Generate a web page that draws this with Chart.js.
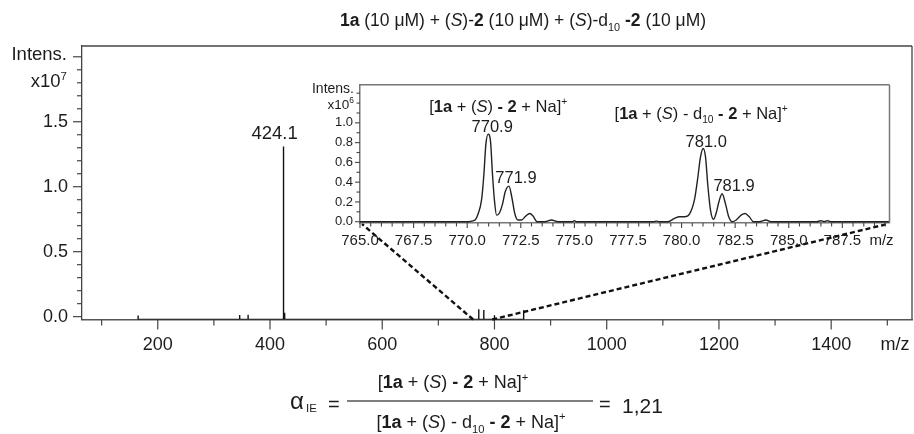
<!DOCTYPE html>
<html>
<head>
<meta charset="utf-8">
<script src="https://cdn.jsdelivr.net/npm/chart.js@4.4.1/dist/chart.umd.min.js"></script>
<style>
  html, body { margin: 0; padding: 0; background: #fff; }
  #wrap { position: relative; width: 914px; height: 434px; overflow: hidden; }
  #main { position: absolute; left: 0; top: 0; }
  #inset { position: absolute; left: 300px; top: 70px; }
</style>
</head>
<body>
<div id="wrap">
  <canvas id="main" width="914" height="434"></canvas>
  <canvas id="inset" width="600" height="190"></canvas>
</div>
<script>
const FONT = '"Liberation Sans", Arial, Helvetica, sans-serif';
const INK = '#1c1c1c';

// full scan, intensity in 10^7
const mainMz  = [165, 346, 361, 424.1, 426.1, 772, 781, 800, 852];
const mainInt = [0.008, 0.012, 0.015, 1.31, 0.03, 0.057, 0.052, 0.01, 0.05];
const mainXTicks  = [100, 200, 300, 400, 500, 600, 700, 800, 900, 1000, 1100, 1200, 1300, 1400, 1500];
const mainXLabels = [200, 400, 600, 800, 1000, 1200, 1400];
const mainYTicks  = [0, 0.1, 0.2, 0.3, 0.4, 0.5, 0.6, 0.7, 0.8, 0.9, 1.0, 1.1, 1.2, 1.3, 1.4, 1.5, 1.6, 1.7, 1.8, 1.9, 2.0];
const mainYMajor  = [0, 0.5, 1.0, 1.5, 2.0];
const mainYLabels = [0, 0.5, 1.0, 1.5];

// zoomed window 765-790, intensity in 10^6
const insetMz = [765.0, 769.89, 770.36, 770.51, 770.67, 770.78, 770.87, 770.98, 771.09, 771.18,
  771.27, 771.37, 771.49, 771.65, 771.77, 771.95, 772.08, 772.22, 772.37, 772.53,
  772.73, 772.92, 773.07, 773.26, 773.62, 773.93, 774.24, 774.9, 775.0, 775.1,
  778.7, 778.82, 778.95, 779.36, 779.67, 779.9, 780.14, 780.37, 780.6, 780.76,
  780.88, 781.01, 781.12, 781.22, 781.35, 781.49, 781.61, 781.74, 781.89, 782.05,
  782.2, 782.36, 782.55, 782.78, 782.96, 783.16, 783.35, 783.63, 783.94, 784.17,
  786.3, 786.5, 786.65, 786.8, 786.95, 789.7];
const insetInt = [0, 0, 0.017, 0.08, 0.22, 0.48, 0.78, 0.886, 0.81, 0.48,
  0.22, 0.067, 0.083, 0.18, 0.30, 0.36, 0.25, 0.083, 0.017, 0.017,
  0.057, 0.083, 0.057, 0, 0, 0.017, 0, 0, 0.01, 0,
  0, 0.006, 0, 0, 0.033, 0.05, 0.05, 0.077, 0.22, 0.45,
  0.65, 0.74, 0.65, 0.38, 0.117, 0.024, 0.083, 0.2, 0.283, 0.18,
  0.05, 0, 0.017, 0.067, 0.083, 0.05, 0, 0, 0.017, 0,
  0, 0.01, 0, 0.01, 0, 0];
const insetXLabels = [765, 767.5, 770, 772.5, 775, 777.5, 780, 782.5, 785, 787.5];
const insetYTicks  = [0, 0.1, 0.2, 0.3, 0.4, 0.5, 0.6, 0.7, 0.8, 0.9, 1.0, 1.1, 1.2, 1.3];
const insetYLabels = [0, 0.2, 0.4, 0.6, 0.8, 1.0];

// where the dashed zoom lines meet the full-scan axis (m/z)
const zoomFoot = [762, 796];

const MAIN_Y_MIN = -0.022;
const INSET_Y_MIN = -0.013;

const has = (arr, v) => arr.some(a => Math.abs(a - v) < 1e-6);

// text in pieces: [text] plain, [text,'b'] bold, [text,'i'] italic, 'sub' / 'sup'
function rich(ctx, parts, x, y, size, align) {
  const fontFor = st => {
    const small = st === 'sub' || st === 'sup';
    return (st === 'i' ? 'italic ' : '') + (st === 'b' ? 'bold ' : '') +
      (small ? size * 0.62 : size) + 'px ' + FONT;
  };
  let w = 0;
  for (const [t, st] of parts) { ctx.font = fontFor(st); w += ctx.measureText(t).width; }
  let cx = align === 'center' ? x - w / 2 : align === 'right' ? x - w : x;
  const base = y + size * 0.36;
  ctx.textAlign = 'left';
  ctx.textBaseline = 'alphabetic';
  ctx.fillStyle = INK;
  for (const [t, st] of parts) {
    ctx.font = fontFor(st);
    const dy = st === 'sub' ? size * 0.28 : st === 'sup' ? -size * 0.42 : 0;
    ctx.fillText(t, cx, base + dy);
    cx += ctx.measureText(t).width;
  }
  return w;
}

function seg(ctx, x1, y1, x2, y2) {
  ctx.beginPath(); ctx.moveTo(x1, y1); ctx.lineTo(x2, y2); ctx.stroke();
}

const ionPlain = [['['], ['1a', 'b'], [' + ('], ['S', 'i'], [') '], ['- 2', 'b'], [' + Na]'], ['+', 'sup']];
const ionD10 = [['['], ['1a', 'b'], [' + ('], ['S', 'i'], [') - d'], ['10', 'sub'], [' - 2', 'b'], [' + Na]'], ['+', 'sup']];
const titleParts = [['1a', 'b'], [' (10 μM) + ('], ['S', 'i'], [')-'], ['2', 'b'], [' (10 μM) + ('], ['S', 'i'],
  [')-d'], ['10', 'sub'], [' '], ['-2', 'b'], [' (10 μM)']];

// peak tags: text, anchor m/z, anchor intensity, pixel offset
const insetTags = [
  { parts: [['770.9']], mz: 770.98, h: 0.886, dx: 4, dy: -8 },
  { parts: [['771.9']], mz: 771.95, h: 0.36, dx: 7, dy: -9 },
  { parts: [['781.0']], mz: 781.01, h: 0.74, dx: 3, dy: -8 },
  { parts: [['781.9']], mz: 781.89, h: 0.283, dx: 12, dy: -9 },
  { parts: ionPlain, mz: 770.98, h: 0.886, dx: 10, dy: -28 },
  { parts: ionD10, mz: 781.01, h: 0.74, dx: -2, dy: -36 }
];

const insetDecor = {
  id: 'insetDecor',
  afterDraw(chart) {
    const { ctx, chartArea: a, scales: { x, y } } = chart;
    ctx.save();
    ctx.strokeStyle = '#777';
    ctx.lineWidth = 1.5;
    seg(ctx, a.left, a.top, a.right, a.top);
    seg(ctx, a.right, a.top, a.right, a.bottom);
    ctx.strokeStyle = '#444';
    ctx.lineWidth = 1.1;
    x.ticks.forEach(t => {
      const px = x.getPixelForValue(t.value);
      seg(ctx, px, a.bottom, px, a.bottom + (has(insetXLabels, t.value) ? 5 : 3.5));
    });
    y.ticks.forEach(t => {
      const py = y.getPixelForValue(t.value);
      seg(ctx, a.left - (has(insetYLabels, t.value) ? 5 : 3.5), py, a.left, py);
    });
    rich(ctx, [['Intens.']], a.left - 6, a.top + 3, 14, 'right');
    rich(ctx, [['x10'], ['6', 'sup']], a.left - 6, y.getPixelForValue(1.2) + 1, 13.5, 'right');
    insetTags.forEach(g => {
      rich(ctx, g.parts, x.getPixelForValue(g.mz) + g.dx, y.getPixelForValue(g.h) + g.dy, 16.5, 'center');
    });
    ctx.fillStyle = INK;
    ctx.font = '15px ' + FONT;
    ctx.textAlign = 'center';
    ctx.textBaseline = 'middle';
    ctx.fillText('m/z', a.right - 8, a.bottom + 18);
    ctx.restore();
  }
};

const insetChart = new Chart(document.getElementById('inset'), {
  type: 'line',
  data: {
    datasets: [{
      data: insetMz.map((m, i) => ({ x: m, y: insetInt[i] })),
      borderColor: '#222',
      borderWidth: 1.4,
      pointRadius: 0,
      cubicInterpolationMode: 'monotone',
      fill: false
    }]
  },
  options: {
    responsive: false,
    animation: false,
    events: [],
    layout: { padding: { top: 12.7, right: 10.5, left: 0, bottom: 0 } },
    plugins: { legend: { display: false }, tooltip: { enabled: false } },
    scales: {
      x: {
        type: 'linear', min: 765, max: 789.7,
        afterBuildTicks: s => {
          const t = [];
          for (let v = 765; v <= 789.7; v += 0.5) t.push({ value: v });
          s.ticks = t;
        },
        afterFit: s => { s.height = 37; },
        grid: { display: false, drawTicks: false },
        border: { display: true, color: '#777', width: 1.5 },
        ticks: {
          padding: 8.5, color: INK, autoSkip: false, maxRotation: 0,
          font: { size: 15, family: FONT },
          callback: v => has(insetXLabels, v) ? v.toFixed(1) : ''
        }
      },
      y: {
        min: INSET_Y_MIN, max: 1.385,
        afterBuildTicks: s => { s.ticks = insetYTicks.map(v => ({ value: v })); },
        afterFit: s => { s.width = 60; },
        grid: { display: false, drawTicks: false },
        border: { display: true, color: '#777', width: 1.5 },
        ticks: {
          padding: 7, color: INK, autoSkip: false,
          font: { size: 13, family: FONT },
          callback: v => has(insetYLabels, v) ? v.toFixed(1) : ''
        }
      }
    }
  },
  plugins: [insetDecor]
});

const mainDecor = {
  id: 'mainDecor',
  afterDraw(chart) {
    const { ctx, chartArea: a, scales: { x, y } } = chart;
    ctx.save();
    ctx.strokeStyle = '#444';
    ctx.lineWidth = 1.3;
    seg(ctx, a.left, a.top, a.right, a.top);
    seg(ctx, a.right, a.top, a.right, a.bottom);
    ctx.lineWidth = 1.2;
    x.ticks.forEach(t => {
      const px = x.getPixelForValue(t.value);
      seg(ctx, px, a.bottom, px, a.bottom + (has(mainXLabels, t.value) ? 10 : 6));
    });
    y.ticks.forEach(t => {
      const py = y.getPixelForValue(t.value);
      seg(ctx, a.left - (has(mainYMajor, t.value) ? 9 : 5), py, a.left, py);
    });

    rich(ctx, [['Intens.']], a.left - 15, y.getPixelForValue(2.0) - 3, 18.5, 'right');
    rich(ctx, [['x10'], ['7', 'sup']], a.left - 15, y.getPixelForValue(1.8) - 2, 18.5, 'right');
    rich(ctx, [['424.1']], x.getPixelForValue(424.1) - 9, y.getPixelForValue(1.31) - 14, 18.5, 'center');

    ctx.fillStyle = INK;
    ctx.font = '18px ' + FONT;
    ctx.textAlign = 'center';
    ctx.textBaseline = 'middle';
    ctx.fillText('m/z', a.right - 17, a.bottom + 26);

    // title
    rich(ctx, titleParts, 523, 20, 17.5, 'center');

    // ratio formula
    rich(ctx, [['α']], 290, 400.5, 24, 'left');
    rich(ctx, [['IE']], 306, 408, 11.5, 'left');
    rich(ctx, [['=']], 328, 404, 20, 'left');
    ctx.strokeStyle = '#555';
    ctx.lineWidth = 1.5;
    seg(ctx, 347, 401, 593, 401);
    rich(ctx, ionPlain, 453, 382, 18, 'center');
    rich(ctx, ionD10, 471, 421.5, 18, 'center');
    rich(ctx, [['=']], 599, 404, 20, 'left');
    rich(ctx, [['1,21']], 622, 405, 21, 'left');

    // dashed zoom lines up to the inset's lower corners
    const ia = insetChart.chartArea;
    const ox = 300, oy = 70;
    ctx.strokeStyle = '#111';
    ctx.lineWidth = 2.4;
    ctx.setLineDash([5, 3]);
    seg(ctx, x.getPixelForValue(zoomFoot[0]), a.bottom, ia.left + ox + 2, ia.bottom + oy + 1);
    seg(ctx, x.getPixelForValue(zoomFoot[1]), a.bottom, ia.right + ox - 2, ia.bottom + oy + 1);
    ctx.setLineDash([]);
    ctx.restore();
  }
};

const spikes = [];
mainMz.forEach((m, i) => {
  spikes.push({ x: m, y: MAIN_Y_MIN }, { x: m, y: mainInt[i] }, { x: m, y: MAIN_Y_MIN });
});

new Chart(document.getElementById('main'), {
  type: 'line',
  data: {
    datasets: [{
      data: spikes,
      borderColor: '#111',
      borderWidth: 1.4,
      pointRadius: 0,
      tension: 0,
      fill: false
    }]
  },
  options: {
    responsive: false,
    animation: false,
    events: [],
    layout: { padding: { top: 46, right: 2, left: 0, bottom: 0 } },
    plugins: { legend: { display: false }, tooltip: { enabled: false } },
    scales: {
      x: {
        type: 'linear', min: 65, max: 1544,
        afterBuildTicks: s => { s.ticks = mainXTicks.map(v => ({ value: v })); },
        afterFit: s => { s.height = 434 - 319.5; },
        grid: { display: false, drawTicks: false },
        border: { display: true, color: '#555', width: 1.5 },
        ticks: {
          padding: 15, color: INK, autoSkip: false, maxRotation: 0,
          font: { size: 18, family: FONT },
          callback: v => has(mainXLabels, v) ? String(v) : ''
        }
      },
      y: {
        min: MAIN_Y_MIN, max: 2.083,
        afterBuildTicks: s => { s.ticks = mainYTicks.map(v => ({ value: v })); },
        afterFit: s => { s.width = 82; },
        grid: { display: false, drawTicks: false },
        border: { display: true, color: '#444', width: 1.3 },
        ticks: {
          padding: 14, color: INK, autoSkip: false,
          font: { size: 18, family: FONT },
          callback: v => has(mainYLabels, v) ? v.toFixed(1) : ''
        }
      }
    }
  },
  plugins: [mainDecor]
});
</script>
</body>
</html>
